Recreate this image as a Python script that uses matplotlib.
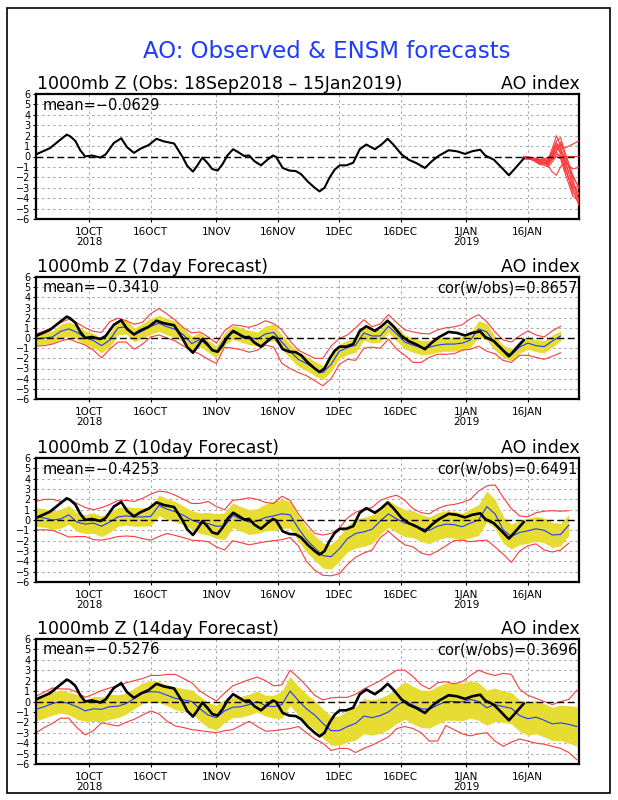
import numpy as np
import matplotlib
matplotlib.use("Agg")
import matplotlib.pyplot as plt
import pandas as pd
from matplotlib.patches import Rectangle

# ---------------- data ----------------
start = pd.Timestamp("2018-09-18")
tick_dates = ["2018-10-01", "2018-10-16", "2018-11-01", "2018-11-16",
              "2018-12-01", "2018-12-16", "2019-01-01", "2019-01-16"]
tick_labels = ["1OCT\n2018", "16OCT", "1NOV", "16NOV",
               "1DEC", "16DEC", "1JAN\n2019", "16JAN"]

main_title = "AO: Observed & ENSM forecasts"
panel_titles = ["1000mb Z (Obs: 18Sep2018 – 15Jan2019)",
                "1000mb Z (7day Forecast)",
                "1000mb Z (10day Forecast)",
                "1000mb Z (14day Forecast)"]
mean_texts = ["mean=−0.0629", "mean=−0.3410", "mean=−0.4253", "mean=−0.5276"]
cor_texts = [None, "cor(w/obs)=0.8657", "cor(w/obs)=0.6491", "cor(w/obs)=0.3696"]

# observed AO (days after 18 Sep 2018)
obs_days = [0, 3.4, 5.9, 7.5, 8.3, 9.6, 10.8, 12, 13.6, 15.7,
            17, 19, 20.8, 22.2, 23.9, 25.5, 27.5, 29.4, 31.2, 33.7,
            35.7, 36.9, 38.3, 39.4, 40.6, 41.8, 43, 44.3, 45.5, 46.7,
            48.1, 49.6, 50.8, 52, 53.3, 54.9, 56.5, 57.8, 58.6, 60.2,
            61.8, 63.4, 64.7, 66.3, 68, 69.2, 70.4, 71.6, 72.9, 74.1,
            75.7, 77.4, 79, 80.6, 82.7, 84.3, 85.8, 87.2, 89.2, 90.9,
            92.9, 94.9, 96.6, 98.2, 100.7, 102.7, 104.7, 106.4, 108.4, 109.6,
            111.7, 113.7, 115.4, 117, 119]
obs_vals = [0.2, 0.8, 1.6, 2.1, 1.95, 1.5, 0.6, 0.0, 0.1, -0.1,
            0.2, 1.3, 1.75, 0.9, 0.35, 0.75, 1.1, 1.7, 1.45, 1.25,
            0.0, -0.9, -1.45, -0.85, -0.1, -0.6, -1.2, -1.35, -0.75, 0.1,
            0.7, 0.35, 0.05, 0.1, -0.45, -0.85, -0.3, 0.1, -0.05, -1.1,
            -1.35, -1.4, -1.7, -2.4, -3.0, -3.35, -3.0, -2.05, -1.25, -0.85,
            -0.85, -0.6, 0.7, 1.15, 0.7, 1.15, 1.7, 1.15, 0.2, -0.3,
            -0.65, -1.1, -0.45, 0.05, 0.6, 0.5, 0.25, 0.5, 0.65, 0.1,
            -0.3, -1.1, -1.8, -1.1, -0.2]

# ensemble member forecasts from 15 Jan (top panel)
member_days = [119, 121, 123, 125, 126, 127, 128, 129, 131, 133]
members = [
    [-0.1, -0.2, -0.4, -0.2, 0.8, 2.0, 1.0, -0.5, -2.5, -4.0],
    [-0.2, -0.2, -0.5, -0.3, 0.5, 1.5, 1.8, 0.5, -1.8, -3.5],
    [0.0, -0.1, -0.3, -0.1, 0.3, 1.2, 0.6, -0.3, -2.8, -4.8],
    [-0.1, -0.3, -0.6, -0.8, -0.2, 0.5, 1.2, 0.8, 1.2, 1.6],
    [-0.2, -0.3, -0.5, -0.6, -0.3, 0.2, 0.0, -1.0, -3.2, -5.2],
    [-0.1, -0.2, -0.7, -1.0, -0.5, 0.0, -0.2, -1.5, -3.8, -4.5],
    [0.0, -0.2, -0.4, -0.9, -1.5, -1.8, -1.0, -0.5, -1.2, -1.0],
    [-0.1, -0.1, -0.3, -0.4, 0.2, 0.9, 0.3, -1.2, -3.0, -2.8],
    [-0.2, -0.3, -0.6, -0.5, 0.0, 1.0, 0.4, 0.0, -2.0, -3.2],
    [-0.1, -0.2, -0.5, -0.7, -0.1, 0.6, 1.4, 0.2, -2.2, -5.0],
    [0.0, -0.3, -0.8, -0.6, 0.4, 1.3, 0.8, -0.8, -3.5, -4.2],
    [-0.1, -0.2, -0.3, -0.5, 0.0, 0.4, 0.0, 0.0, 0.0, 0.0],
]

# 7-day forecast (every 2 days from 18 Sep)
days7 = np.arange(0, 129, 2)
mean7 = [-0.1, 0.0, 0.1, 0.65, 0.9, 0.55, 0.0, -0.25, -0.75, -0.2,
         1.0, 1.1, 0.3, 0.7, 1.15, 1.45, 1.1, 0.85, 0.3, -0.55,
         -0.15, -0.8, -1.35, -0.1, 0.55, 0.3, 0.05, -0.1, 0.4, 0.55,
         -0.4, -1.3, -2.1, -2.5, -3.0, -3.4, -2.6, -1.3, -0.95, -0.7,
         0.5, 0.2, 0.2, 1.15, 0.4, -0.4, -0.7, -0.95, -0.9, -0.7,
         -0.6, -0.6, -0.5, -0.2, 0.9, 0.6, -0.5, -1.3, -1.65, -0.9,
         -0.5, -0.75, -0.85, -0.3, 0.2]
spread7 = [0.6, 0.6, 0.6, 0.7, 0.7, 0.7, 0.7, 0.7, 0.7, 0.7,
           0.7, 0.7, 0.7, 0.7, 0.8, 0.8, 0.8, 0.8, 0.7, 0.7,
           0.7, 0.6, 0.6, 0.6, 0.7, 0.7, 0.7, 0.7, 0.8, 0.8,
           0.7, 0.7, 0.7, 0.7, 0.7, 0.7, 0.7, 0.7, 0.7, 0.7,
           0.7, 0.7, 0.6, 0.6, 0.7, 0.7, 0.7, 0.7, 0.7, 0.7,
           0.7, 0.7, 0.7, 0.7, 0.8, 0.8, 0.7, 0.6, 0.6, 0.6,
           0.6, 0.6, 0.6, 0.6, 0.5]
max7 = [0.4, 0.7, 1.0, 1.5, 1.85, 1.5, 1.0, 0.65, 0.55, 1.6,
        1.95, 1.7, 1.35, 1.55, 2.4, 2.9, 2.35, 1.75, 1.0, 0.5,
        0.6, 0.1, -0.5, 0.7, 1.3, 1.2, 1.05, 1.3, 1.7, 1.4,
        0.8, -0.3, -1.2, -1.6, -2.0, -2.0, -0.8, -0.05, 0.3, 1.0,
        1.8, 1.1, 1.4, 2.3, 1.5, 0.8, 0.6, 0.45, 0.4, 0.8,
        1.0, 1.1, 1.3, 1.9, 2.3, 1.6, 0.6, -0.2, -0.4, 0.2,
        0.7, 0.3, 0.1, 0.7, 1.15]
min7 = [-0.8, -0.75, -0.6, -0.3, -0.1, -0.4, -0.7, -1.2, -1.95, -1.1,
        -0.4, -0.4, -1.1, -0.6, 0.1, 0.3, 0.0, -0.3, -0.8, -1.2,
        -1.6, -2.1, -2.5, -0.9, -1.0, -1.15, -1.4, -1.2, -0.7, -0.9,
        -2.5, -3.0, -3.4, -3.7, -4.2, -4.7, -4.0, -2.6, -2.1, -2.2,
        -1.0, -0.9, -1.0, -0.1, -1.1, -1.7, -2.4, -2.4, -1.9, -1.6,
        -1.6, -1.55, -1.2, -1.1, -0.8, -1.3, -1.55, -2.2, -2.4, -1.7,
        -1.7, -1.9, -2.1, -1.8, -1.45]

# 10-day forecast
days10 = np.arange(0, 131, 2)
mean10 = [0.3, 0.2, 0.0, 0.1, 0.5, -0.2, -0.4, -0.3, -0.6, -0.2,
          0.3, 0.4, 0.3, 0.3, 0.35, 1.4, 1.05, 0.8, 0.45, 0.0,
          -0.3, -0.35, -0.6, -0.6, 0.45, 0.1, -0.2, -0.1, 0.25, 0.4,
          0.6, 0.5, -0.8, -1.9, -2.7, -3.45, -3.55, -2.8, -1.8, -1.3,
          -1.15, -0.9, -0.1, 0.6, 0.1, -0.3, -0.4, -0.8, -1.0, -0.6,
          -0.4, -0.45, -0.65, -0.3, 0.0, 1.3, 0.6, -0.95, -1.6, -1.2,
          -1.05, -0.85, -1.0, -1.45, -1.4, -0.5]
spread10 = [0.9, 0.9, 0.9, 0.9, 0.9, 0.9, 0.9, 1.0, 1.0, 1.0,
            0.9, 0.9, 0.9, 0.9, 0.9, 1.0, 1.0, 1.0, 0.9, 0.9,
            1.0, 1.1, 1.2, 1.3, 1.2, 1.2, 1.2, 1.2, 1.3, 1.4,
            1.4, 1.3, 1.2, 1.2, 1.2, 1.2, 1.2, 1.2, 1.3, 1.4,
            1.4, 1.4, 1.3, 1.3, 1.3, 1.3, 1.3, 1.3, 1.3, 1.3,
            1.3, 1.3, 1.3, 1.4, 1.5, 1.5, 1.4, 1.3, 1.2, 1.2,
            1.2, 1.2, 1.2, 1.2, 1.1, 1.0]
max10 = [1.8, 2.0, 2.0, 1.8, 2.0, 1.6, 1.2, 1.0, 1.2, 1.5,
         1.9, 1.9, 1.8, 2.1, 2.5, 2.8, 2.7, 2.4, 2.0, 1.6,
         1.6, 1.8, 1.3, 1.0, 1.9, 2.0, 2.15, 2.0, 1.7, 1.6,
         2.3, 1.9, 0.6, -0.4, -1.3, -1.45, -1.3, -0.8, 0.2, 0.75,
         1.05, 1.2, 1.9, 2.2, 2.4, 1.9, 1.1, 0.7, 0.6, 1.1,
         1.4, 1.5, 1.7, 2.0, 2.8, 3.3, 3.4, 2.2, 1.1, 0.4,
         0.3, 0.7, 0.85, 0.9, 0.85, 0.9]
min10 = [-0.95, -0.95, -1.0, -1.3, -1.65, -1.6, -1.6, -1.9, -1.95, -1.8,
         -1.6, -1.55, -1.6, -1.8, -1.95, -1.6, -1.3, -1.5, -1.7, -1.95,
         -2.0, -2.1, -2.6, -2.9, -2.0, -2.2, -2.4, -2.25, -2.1, -2.0,
         -1.9, -1.7, -2.5, -4.0, -4.85, -5.35, -5.4, -5.2, -4.3, -3.6,
         -3.2, -2.9, -1.7, -1.1, -1.8, -2.4, -2.6, -3.2, -3.4, -3.0,
         -2.5, -2.0, -1.95, -2.1, -2.0, -1.95, -2.6, -3.3, -4.1, -3.0,
         -2.5, -2.3, -2.9, -3.1, -2.9, -2.25]

# 14-day forecast
days14 = np.arange(0, 133, 2)
mean14 = [-0.75, -0.5, -0.2, 0.0, -0.2, -0.5, -0.9, -0.7, -0.75, -0.5,
          -0.45, -0.2, 0.3, 0.8, 0.95, 0.9, 0.6, 0.3, 0.15, 0.0,
          -0.7, -1.3, -1.55, -0.9, -0.55, -0.5, -0.3, 0.0, -0.4, -0.5,
          -0.3, 1.0, 0.1, -0.7, -1.3, -2.1, -2.8, -2.8, -2.4, -2.1,
          -1.4, -1.55, -1.35, -1.0, -0.4, 0.1, -0.35, -0.7, -0.75, -0.35,
          0.0, 0.0, -0.05, 0.2, 0.0, -0.6, -0.3, -0.5, -0.65, -1.35,
          -1.65, -1.5, -1.8, -2.15, -2.05, -2.2, -2.4]
spread14 = [1.1, 1.1, 1.1, 1.1, 1.1, 1.2, 1.0, 1.2, 1.2, 1.2,
            1.1, 1.0, 1.0, 1.0, 1.0, 1.0, 1.0, 1.1, 1.1, 1.1,
            1.2, 1.2, 1.2, 1.1, 1.0, 1.0, 1.0, 1.0, 1.0, 1.1,
            1.3, 1.4, 1.4, 1.4, 1.4, 1.4, 1.4, 1.4, 1.5, 1.6,
            1.7, 1.7, 1.7, 1.7, 1.7, 1.8, 1.8, 1.8, 1.8, 1.8,
            1.8, 1.8, 1.8, 1.8, 1.8, 1.7, 1.6, 1.5, 1.5, 1.5,
            1.6, 1.6, 1.6, 1.6, 1.7, 1.8, 1.9]
max14 = [0.5, 0.9, 1.3, 1.2, 1.2, 0.9, 0.4, 0.7, 1.05, 1.3,
         1.5, 1.8, 2.0, 2.2, 2.5, 2.5, 2.6, 2.6, 2.2, 1.8,
         1.0, 0.5, 0.05, 0.8, 1.5, 1.8, 2.1, 2.35, 2.0, 1.5,
         1.6, 3.0, 2.3, 1.5, 0.6, 0.15, 0.35, 0.4, 0.4, 0.7,
         1.2, 1.6, 2.0, 2.5, 3.0, 3.0, 2.4, 1.6, 1.2, 1.8,
         1.9, 1.7, 1.9, 2.5, 3.0, 2.7, 2.5, 2.7, 2.6, 1.2,
         0.6, 0.3, 0.0, -0.3, 0.0, 0.2, 1.1]
min14 = [-3.0, -2.5, -2.1, -1.6, -1.6, -2.5, -3.2, -2.8, -2.05, -2.2,
         -2.35, -2.0, -1.7, -1.3, -0.9, -1.2, -1.9, -2.35, -2.5, -2.7,
         -2.8, -2.9, -3.0, -2.8, -2.7, -2.3, -1.9, -2.4, -2.85, -2.8,
         -2.7, -2.6, -2.4, -3.0, -3.6, -4.0, -4.7, -4.5, -4.5, -4.9,
         -4.5, -4.2, -3.8, -3.4, -2.6, -2.4, -2.6, -3.0, -3.8, -3.8,
         -2.3, -2.7, -3.1, -3.3, -3.1, -3.0, -3.8, -4.3, -3.9, -3.6,
         -3.8, -4.0, -4.1, -4.3, -4.5, -4.9, -5.6]

# ---------------- style ----------------
YELLOW = "#e6dc32"
RED = "#fa3c3c"
BLUE = "#1e3cff"
GRAY = "#aaaaaa"

tick_pos = [(pd.Timestamp(d) - start).days for d in tick_dates]

fig = plt.figure(figsize=(6.18, 8.0), dpi=100)
fig.patches.append(Rectangle((7 / 618, 7 / 800), 603 / 618, 785 / 800,
                             transform=fig.transFigure, fill=False,
                             edgecolor="black", linewidth=1.2))
fig.text(327 / 618, 1 - 52 / 800, main_title, color=BLUE, fontsize=16.5,
         ha="center", va="center")

W = 543 / 618
L = 36 / 618
rects = [[L, 1 - 219 / 800, W, 125 / 800],
         [L, 1 - 399 / 800, W, 122 / 800],
         [L, 1 - 582 / 800, W, 124 / 800],
         [L, 1 - 764 / 800, W, 125 / 800]]

axes = []
for i, r in enumerate(rects):
    ax = fig.add_axes(r)
    ax.set_xlim(0, 132.5)
    ax.set_ylim(-6, 6)
    ax.set_yticks(range(-6, 7))
    ax.set_yticklabels([str(v).replace("-", "−") for v in range(-6, 7)])
    ax.set_xticks(tick_pos)
    ax.set_xticklabels(tick_labels, linespacing=1.05)
    ax.tick_params(axis="both", labelsize=7, length=2.5, width=0.8, pad=1.5)
    ax.tick_params(axis="x", pad=3, labelsize=7.5)
    for y in range(-5, 6):
        if y != 0:
            ax.axhline(y, color=GRAY, lw=0.8, ls=(0, (2.2, 2.8)), zorder=0.5)
    for t in tick_pos:
        ax.axvline(t, color=GRAY, lw=0.8, ls=(0, (2.2, 2.8)), zorder=0.5)
    ax.axhline(0, color="black", lw=1.0, ls=(0, (5, 2.5)), zorder=4)
    for s in ax.spines.values():
        s.set_linewidth(1.6)
    ax.annotate(panel_titles[i], xy=(0, 1), xycoords="axes fraction",
                xytext=(1, 5), textcoords="offset pixels",
                ha="left", va="baseline", fontsize=12.5)
    ax.annotate("AO index", xy=(1, 1), xycoords="axes fraction",
                xytext=(1, 5), textcoords="offset pixels",
                ha="right", va="baseline", fontsize=12.5)
    ax.annotate(mean_texts[i], xy=(0, 1), xycoords="axes fraction",
                xytext=(7, -11), textcoords="offset pixels",
                ha="left", va="center", fontsize=10.5)
    if cor_texts[i]:
        ax.annotate(cor_texts[i], xy=(1, 1), xycoords="axes fraction",
                    xytext=(-1, -11), textcoords="offset pixels",
                    ha="right", va="center", fontsize=10.5)
    axes.append(ax)

# top panel: observations + members
ax = axes[0]
for m in members:
    ax.plot(member_days, m, color=RED, lw=0.8, zorder=3)
ax.plot(obs_days, obs_vals, color="black", lw=1.5, zorder=5)

# forecast panels
fc = [(days7, mean7, spread7, max7, min7),
      (days10, mean10, spread10, max10, min10),
      (days14, mean14, spread14, max14, min14)]
for ax, (d, mu, sp, hi, lo) in zip(axes[1:], fc):
    mu = np.array(mu)
    sp = np.array(sp)
    ax.fill_between(d, mu - sp, mu + sp, color=YELLOW, lw=0, zorder=1)
    ax.plot(d, hi, color=RED, lw=0.8, zorder=2)
    ax.plot(d, lo, color=RED, lw=0.8, zorder=2)
    ax.plot(d, mu, color=BLUE, lw=0.8, zorder=3)
    ax.plot(obs_days, obs_vals, color="black", lw=1.9, zorder=5)

fig.savefig("out.png", dpi=100)
